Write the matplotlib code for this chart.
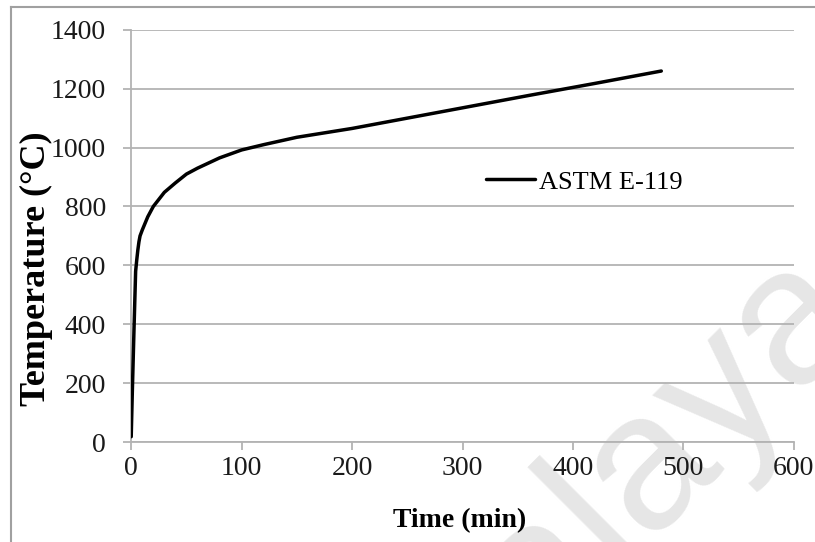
import matplotlib
matplotlib.use("Agg")
import matplotlib.pyplot as plt
from matplotlib.lines import Line2D

# ASTM E-119 standard fire curve
time_min = [0, 1, 2.5, 4, 5, 6, 7, 8, 10, 15, 20, 30, 40, 50, 60, 80, 100, 120,
            150, 200, 240, 300, 360, 420, 480]
temp_c = [18, 170, 380, 580, 618, 652, 680, 700, 720, 765, 800, 848, 880, 910, 930,
          965, 992, 1010, 1035, 1065, 1093, 1135, 1177, 1218, 1260]

x_ticks = [0, 100, 200, 300, 400, 500, 600]
y_ticks = [0, 200, 400, 600, 800, 1000, 1200, 1400]
series_name = "ASTM E-119"

plt.rcParams["font.family"] = ["Liberation Serif", "DejaVu Serif"]
grid_col = "#b3b3b3"

fig = plt.figure(figsize=(8.15, 5.42), dpi=100)
ax = fig.add_axes([0.161, 0.1845, 0.813, 0.7605])

# watermark
ax.text(0.747, 0.081, "Malaya", transform=fig.transFigure, rotation=45,
        ha="center", va="center", rotation_mode="anchor", fontsize=140,
        family="Liberation Sans", color="#e6e6e6", zorder=0.1, clip_on=False)

ax.plot(time_min, temp_c, color="black", lw=2.5, solid_joinstyle="round",
        solid_capstyle="round", label=series_name, zorder=3)

ax.set_xlim(0, 600)
ax.set_ylim(0, 1400)
ax.set_xticks(x_ticks)
ax.set_yticks(y_ticks)
ax.yaxis.grid(True, color=grid_col, lw=1.3)
ax.set_axisbelow(True)
for s in ["top", "right"]:
    ax.spines[s].set_visible(False)
for s in ["left", "bottom"]:
    ax.spines[s].set_color(grid_col)
    ax.spines[s].set_linewidth(1.3)
ax.tick_params(axis="both", colors=grid_col, labelcolor="#1a1a1a",
               labelsize=20, length=6, width=1.3, direction="out")
ax.tick_params(axis="y", pad=12)
ax.tick_params(axis="x", pad=4)

ax.set_xlabel("Time (min)", fontsize=20, fontweight="bold")
ax.set_ylabel("Temperature (\u00b0C)", fontsize=26, fontweight="bold")
ax.xaxis.set_label_coords(0.496, -0.16)
ax.yaxis.set_label_coords(-0.1175, 0.42)

leg = ax.legend(loc="center left", bbox_to_anchor=(0.50, 0.631), frameon=False,
                fontsize=19, handlelength=1.85, handletextpad=0.15)

# outer frame of the original picture
fig.add_artist(Line2D([11 / 815, 11 / 815], [0, 1 - 7 / 542], color="#a0a0a0", lw=1.5))
fig.add_artist(Line2D([11 / 815, 1], [1 - 7 / 542, 1 - 7 / 542], color="#a0a0a0", lw=1.5))

fig.savefig("out.png", dpi=100)
